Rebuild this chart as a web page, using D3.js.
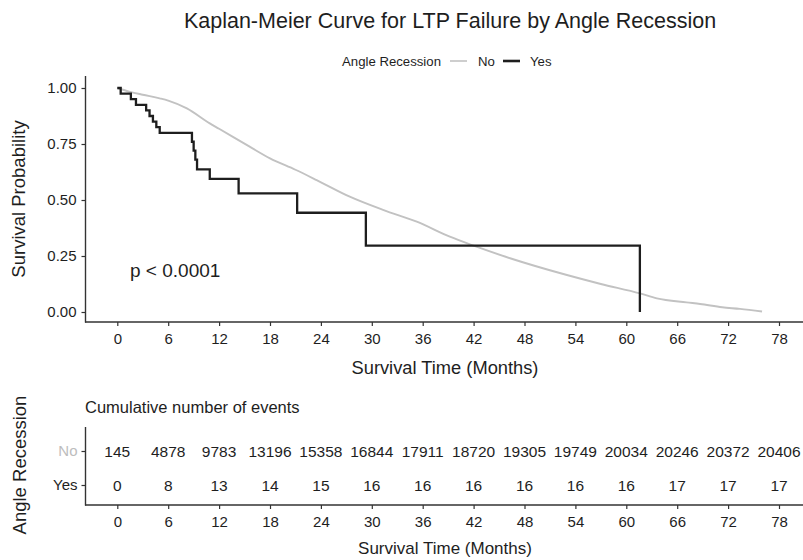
<!DOCTYPE html>
<html>
<head>
<meta charset="utf-8">
<script src="https://cdn.jsdelivr.net/npm/d3@7"></script>
<style>
  html, body { margin: 0; padding: 0; background: #fff; }
  svg { display: block; font-family: "Liberation Sans", Arial, Helvetica, sans-serif; }
</style>
</head>
<body>
<svg id="chart" width="803" height="560"></svg>
<script>
// ---- data ----
const timeTicks = [0, 6, 12, 18, 24, 30, 36, 42, 48, 54, 60, 66, 72, 78];
const survTicks = [0, 0.25, 0.5, 0.75, 1];
const groups = ["No", "Yes"];
const groupColors = ["#c2c2c2", "#1e1e1e"];

// Angle Recession = No (large group, near-smooth KM curve)
const noTime = [0, 1.5, 3, 5, 6, 8.2, 10.9, 12, 15.6, 18, 21, 23.5, 27.4, 31.4, 35.3, 39.2, 42, 46.3, 53, 57, 61.6, 63.6, 67.1, 68.7, 71.3, 73.4, 76];
const noSurv = [1.0, 0.983, 0.97, 0.954, 0.944, 0.909, 0.842, 0.818, 0.738, 0.686, 0.635, 0.589, 0.515, 0.455, 0.403, 0.336, 0.296, 0.24, 0.165, 0.125, 0.083, 0.061, 0.043, 0.036, 0.021, 0.014, 0.002];

// Angle Recession = Yes (small group, step curve)
const yesTime = [0, 0.4, 1.6, 2.2, 3.4, 3.8, 4.2, 4.6, 5.0, 8.8, 9.0, 9.2, 9.4, 10.9, 14.3, 21.2, 29.3, 61.6];
const yesSurv = [1.0, 0.975, 0.95, 0.925, 0.90, 0.875, 0.85, 0.825, 0.80, 0.76, 0.72, 0.68, 0.637, 0.594, 0.53, 0.443, 0.296, 0.0];

// cumulative number of events table
const eventsNo  = [145, 4878, 9783, 13196, 15358, 16844, 17911, 18720, 19305, 19749, 20034, 20246, 20372, 20406];
const eventsYes = [0, 8, 13, 14, 15, 16, 16, 16, 16, 16, 16, 17, 17, 17];

// ---- drawing ----
const svg = d3.select("#chart");
const ink = "#1e1e1e";
const axisColor = "#333333";

const x = d3.scaleLinear().domain([0, 78]).range([117.3, 779]);
const y = d3.scaleLinear().domain([0, 1]).range([312, 88]);

// title
svg.append("text").attr("x", 450).attr("y", 27.5).attr("text-anchor", "middle")
  .attr("font-size", 21.5).attr("fill", ink)
  .text("Kaplan-Meier Curve for LTP Failure by Angle Recession");

// legend
const lg = svg.append("g").attr("font-size", 13.2).attr("fill", ink);
lg.append("text").attr("x", 342).attr("y", 65.5).text("Angle Recession");
lg.append("line").attr("x1", 450).attr("x2", 467).attr("y1", 61).attr("y2", 61)
  .attr("stroke", groupColors[0]).attr("stroke-width", 1.6);
lg.append("text").attr("x", 478).attr("y", 65.5).text(groups[0]);
lg.append("line").attr("x1", 503).attr("x2", 520).attr("y1", 61).attr("y2", 61)
  .attr("stroke", groupColors[1]).attr("stroke-width", 2.6);
lg.append("text").attr("x", 530).attr("y", 65.5).text(groups[1]);

// main axes
const gx = svg.append("g").attr("transform", "translate(0,322)")
  .call(d3.axisBottom(x).tickValues(timeTicks).tickSize(4).tickPadding(7));
const gy = svg.append("g").attr("transform", "translate(85.5,0)")
  .call(d3.axisLeft(y).tickValues(survTicks).tickFormat(d3.format(".2f")).tickSize(4).tickPadding(5));
[gx, gy].forEach(g => {
  g.select(".domain").remove();
  g.selectAll(".tick line").attr("stroke", axisColor).attr("stroke-width", 1.2);
  g.selectAll(".tick text").attr("font-size", 15).attr("fill", ink).attr("font-family", null);
});
svg.append("line").attr("x1", 85.5).attr("x2", 85.5).attr("y1", 76).attr("y2", 322.6)
  .attr("stroke", axisColor).attr("stroke-width", 1.4);
svg.append("line").attr("x1", 85).attr("x2", 803).attr("y1", 322).attr("y2", 322)
  .attr("stroke", axisColor).attr("stroke-width", 1.4);

// axis titles
svg.append("text").attr("x", 445).attr("y", 374).attr("text-anchor", "middle")
  .attr("font-size", 18.3).attr("fill", ink).text("Survival Time (Months)");
svg.append("text").attr("transform", "translate(25,199) rotate(-90)").attr("text-anchor", "middle")
  .attr("font-size", 18.5).attr("fill", ink).text("Survival Probability");

// curves
const noLine = d3.line().x(d => x(d[0])).y(d => y(d[1])).curve(d3.curveMonotoneX);
svg.append("path").datum(noTime.map((t, i) => [t, noSurv[i]]))
  .attr("d", noLine).attr("fill", "none").attr("stroke", groupColors[0]).attr("stroke-width", 1.9);

const yesLine = d3.line().x(d => x(d[0])).y(d => y(d[1])).curve(d3.curveStepAfter);
svg.append("path").datum(yesTime.map((t, i) => [t, yesSurv[i]]))
  .attr("d", yesLine).attr("fill", "none").attr("stroke", groupColors[1]).attr("stroke-width", 2.3);

// p value
svg.append("text").attr("x", 130).attr("y", 276.5).attr("font-size", 19).attr("fill", ink).text("p < 0.0001");

// ---- risk table ----
const yT = d3.scalePoint().domain(groups).range([451, 485]);
svg.append("text").attr("x", 85).attr("y", 413).attr("font-size", 16.5).attr("fill", ink)
  .text("Cumulative number of events");

const tbl = svg.append("g").attr("font-size", 15.5).attr("fill", ink).attr("text-anchor", "middle");
[eventsNo, eventsYes].forEach((arr, gi) => {
  tbl.selectAll(null).data(arr).enter().append("text")
    .attr("x", (d, i) => x(timeTicks[i]))
    .attr("y", yT(groups[gi]) + 5.5)
    .text(d => d);
});

const tgx = svg.append("g").attr("transform", "translate(0,505)")
  .call(d3.axisBottom(x).tickValues(timeTicks).tickSize(4).tickPadding(7));
const tgy = svg.append("g").attr("transform", "translate(85.5,0)")
  .call(d3.axisLeft(yT).tickSize(4).tickPadding(4));
[tgx, tgy].forEach(g => {
  g.select(".domain").remove();
  g.selectAll(".tick line").attr("stroke", axisColor).attr("stroke-width", 1.2);
  g.selectAll(".tick text").attr("font-size", 15).attr("fill", ink).attr("font-family", null);
});
tgy.selectAll(".tick text").attr("fill", (d, i) => i === 0 ? "#bdbdbd" : ink);
svg.append("line").attr("x1", 85.5).attr("x2", 85.5).attr("y1", 427).attr("y2", 505.6)
  .attr("stroke", axisColor).attr("stroke-width", 1.4);
svg.append("line").attr("x1", 85).attr("x2", 803).attr("y1", 505).attr("y2", 505)
  .attr("stroke", axisColor).attr("stroke-width", 1.4);

svg.append("text").attr("x", 445).attr("y", 554).attr("text-anchor", "middle")
  .attr("font-size", 17).attr("fill", ink).text("Survival Time (Months)");
svg.append("text").attr("transform", "translate(26,465) rotate(-90)").attr("text-anchor", "middle")
  .attr("font-size", 18.5).attr("fill", ink).text("Angle Recession");
</script>
</body>
</html>
